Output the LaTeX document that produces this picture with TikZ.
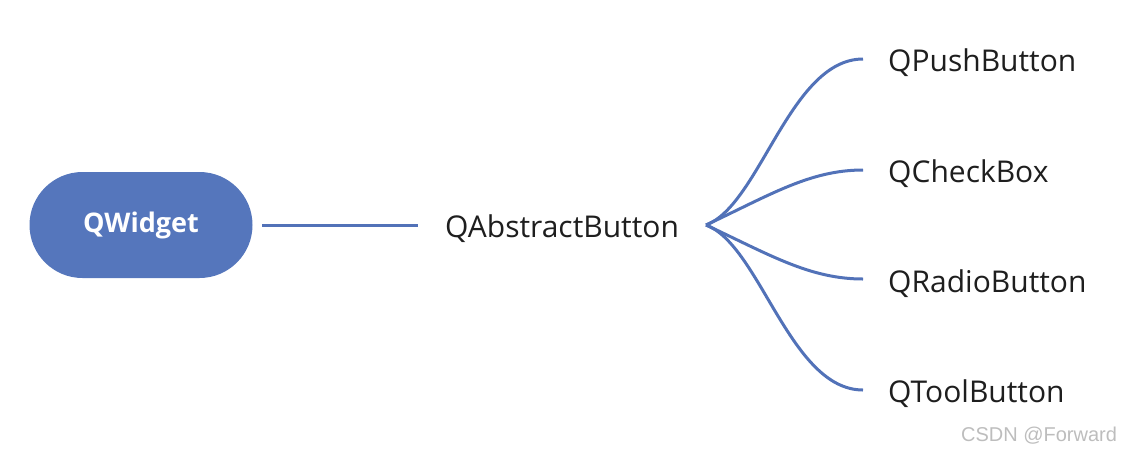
\documentclass[tikz,border=0pt]{standalone}
\usepackage{fontspec}
\setmainfont{Open Sans}
\setsansfont{Liberation Sans}
\usepackage{xcolor}
\usetikzlibrary{calc}
\definecolor{qblue}{HTML}{5576BC}
\definecolor{edge}{HTML}{5272B8}
\definecolor{ink}{HTML}{1E1E1E}
\definecolor{wm}{HTML}{BDBDBD}
\tikzset{
  pill/.style={fill=qblue, rounded corners=53pt, minimum width=223pt, minimum height=106pt,
    text=white, font=\fontsize{27}{30}\selectfont\bfseries, inner sep=0pt},
  lab/.style={text=ink, font=\fontsize{30}{33}\selectfont, inner sep=0pt},
  leaf/.style={lab, anchor=west},
  link/.style={line width=3pt, draw=edge},
  wmark/.style={text=wm, font=\sffamily\fontsize{20}{22}\selectfont}
}

\begin{document}
\begin{tikzpicture}[x=1pt,y=-1pt]
  \useasboundingbox (0,0) rectangle (1131,456);

  \node[pill] (root) at (141,225) {QWidget};
  \node[lab] (abs) at (562,229) {QAbstractButton};
  \coordinate (fork) at (706,225);
  \coordinate (root-e) at (262,225);
  \coordinate (abs-w) at (418,225);

  \node[leaf] (push)  at (888,63)  {QPushButton};
  \node[leaf] (check) at (888,174) {QCheckBox};
  \node[leaf] (radio) at (888,284) {QRadioButton};
  \node[leaf] (tool)  at (888,394) {QToolButton};

  \coordinate (e1) at (863,59);
  \coordinate (e2) at (863,170);
  \coordinate (e3) at (863,279);
  \coordinate (e4) at (863,390);

  % the links
  \draw[link] (root-e) -- (abs-w);
  \draw[link] (fork) .. controls (760,205) and (790,59) .. (e1);
  \draw[link] (fork) .. controls (770,195) and (810,170) .. (e2);
  \draw[link] (fork) .. controls (770,255) and (810,279) .. (e3);
  \draw[link] (fork) .. controls (760,245) and (790,390) .. (e4);

  \node[wmark] (csdn) at (1039,436) {CSDN @Forward};
\end{tikzpicture}
\end{document}
